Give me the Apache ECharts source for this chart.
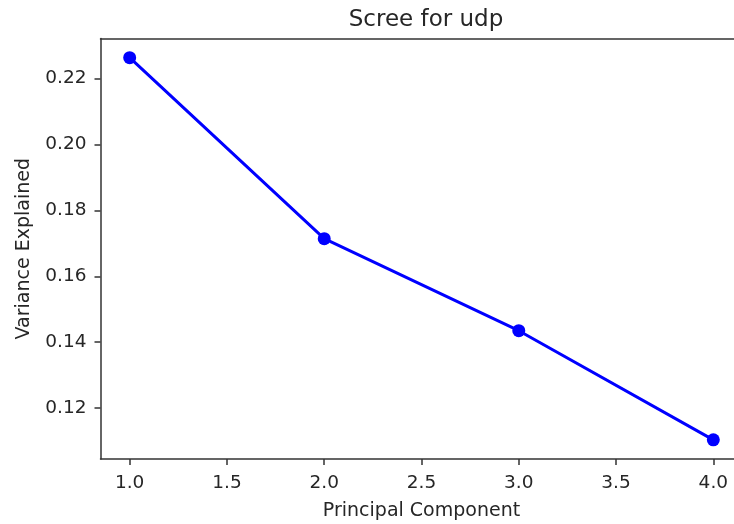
<!DOCTYPE html>
<html>
<head>
<meta charset="utf-8">
<script src="https://cdn.jsdelivr.net/npm/echarts@6/dist/echarts.min.js"></script>
<style>
html,body{margin:0;padding:0;background:#fff;}
#chart{width:734px;height:524px;}
</style>
</head>
<body>
<div id="chart"></div>
<script>
const components = [1, 2, 3, 4];
const varianceExplained = [0.2263, 0.1714, 0.1435, 0.1104];
const xTicks = [1.0, 1.5, 2.0, 2.5, 3.0, 3.5, 4.0];
const yTicks = [0.12, 0.14, 0.16, 0.18, 0.20, 0.22];

const chart = echarts.init(document.getElementById('chart'));
const font = 'DejaVu Sans';
const txt = '#262626';
const axisCol = '#333333';
chart.setOption({
  animation: false,
  backgroundColor: '#ffffff',
  title: {
    text: 'Scree for udp',
    left: 421, top: 4, textAlign: 'center',
    textStyle: {fontFamily: font, fontSize: 23, fontWeight: 'normal', color: txt}
  },
  grid: {
    left: 100.5, top: 38.5, width: 642, height: 420.5,
    outerBoundsMode: 'none', containLabel: false, show: false
  },
  xAxis: [{
    type: 'value', min: 0.85, max: 4.15,
    name: 'Principal Component', nameLocation: 'middle', nameGap: 43,
    nameTextStyle: {fontFamily: font, fontSize: 19, color: txt},
    axisLine: {show: true, lineStyle: {color: axisCol, width: 1.5}},
    axisTick: {show: true, length: 6, lineStyle: {color: axisCol, width: 1.5}, customValues: xTicks},
    axisLabel: {fontFamily: font, fontSize: 18.5, color: txt, margin: 15, customValues: xTicks,
      formatter: v => v.toFixed(1)},
    splitLine: {show: false}
  }, {
    type: 'value', min: 0.85, max: 4.15, position: 'top',
    axisLine: {show: true, onZero: false, lineStyle: {color: axisCol, width: 1.5}},
    axisTick: {show: false}, axisLabel: {show: false}, splitLine: {show: false}
  }],
  yAxis: {
    type: 'value', min: 0.1046, max: 0.2321,
    name: 'Variance Explained', nameLocation: 'middle', nameGap: 67,
    nameTextStyle: {fontFamily: font, fontSize: 19, color: txt},
    axisLine: {show: true, onZero: false, lineStyle: {color: axisCol, width: 1.5}},
    axisTick: {show: true, length: 6, lineStyle: {color: axisCol, width: 1.5}, customValues: yTicks},
    axisLabel: {fontFamily: font, fontSize: 18.5, color: txt, margin: 14, customValues: yTicks,
      formatter: v => v.toFixed(2)},
    splitLine: {show: false}
  },
  series: [{
    type: 'line',
    xAxisIndex: 0,
    data: components.map((c, i) => [c, varianceExplained[i]]),
    symbol: 'circle', symbolSize: 13,
    lineStyle: {color: '#0000ff', width: 3},
    itemStyle: {color: '#0000ff'},
    clip: false
  }]
});
</script>
</body>
</html>
